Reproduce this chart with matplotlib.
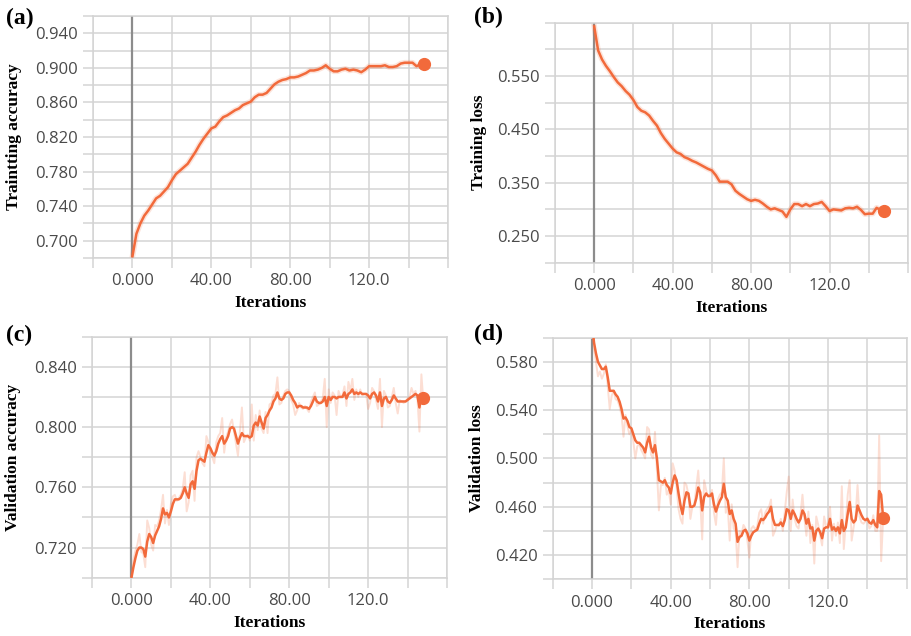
import matplotlib
matplotlib.use("Agg")
import matplotlib.pyplot as plt
from matplotlib.ticker import MultipleLocator, FuncFormatter

# ---------------- data ----------------
iters_ab = list(range(0, 149, 2))
iters_cd = list(range(0, 149))

train_acc = [0.682, 0.708, 0.720, 0.729, 0.735, 0.742, 0.749, 0.752, 0.757, 0.762,
             0.770, 0.777, 0.781, 0.785, 0.789, 0.796, 0.803, 0.811, 0.818, 0.824,
             0.830, 0.832, 0.838, 0.843, 0.845, 0.848, 0.851, 0.853, 0.857, 0.859,
             0.861, 0.866, 0.869, 0.869, 0.871, 0.876, 0.881, 0.884, 0.886, 0.887,
             0.889, 0.889, 0.890, 0.892, 0.894, 0.897, 0.897, 0.898, 0.900, 0.903,
             0.899, 0.896, 0.896, 0.898, 0.899, 0.897, 0.898, 0.897, 0.895, 0.898,
             0.902, 0.902, 0.902, 0.902, 0.903, 0.901, 0.901, 0.902, 0.905, 0.906,
             0.906, 0.906, 0.902, 0.904, 0.905]

train_loss = [0.643, 0.598, 0.581, 0.569, 0.559, 0.548, 0.538, 0.531, 0.522, 0.515,
              0.505, 0.492, 0.485, 0.482, 0.476, 0.466, 0.457, 0.443, 0.432, 0.423,
              0.414, 0.407, 0.404, 0.398, 0.395, 0.391, 0.388, 0.384, 0.380, 0.376,
              0.373, 0.364, 0.352, 0.352, 0.352, 0.347, 0.335, 0.329, 0.324, 0.319,
              0.316, 0.318, 0.316, 0.311, 0.305, 0.300, 0.302, 0.299, 0.296, 0.286,
              0.300, 0.310, 0.310, 0.306, 0.310, 0.306, 0.310, 0.311, 0.314, 0.306,
              0.297, 0.300, 0.299, 0.298, 0.302, 0.303, 0.302, 0.305, 0.299, 0.291,
              0.292, 0.292, 0.303, 0.299, 0.297]

val_acc = [0.700, 0.707, 0.713, 0.718, 0.720, 0.720, 0.719, 0.714, 0.724, 0.729,
           0.727, 0.723, 0.728, 0.731, 0.734, 0.739, 0.746, 0.742, 0.743, 0.740,
           0.744, 0.749, 0.752, 0.752, 0.752, 0.753, 0.756, 0.760, 0.756, 0.753,
           0.762, 0.764, 0.759, 0.771, 0.778, 0.779, 0.778, 0.777, 0.783, 0.788,
           0.786, 0.783, 0.781, 0.784, 0.789, 0.792, 0.794, 0.789, 0.791, 0.794,
           0.799, 0.800, 0.799, 0.794, 0.789, 0.793, 0.796, 0.794, 0.794, 0.794,
           0.793, 0.794, 0.801, 0.803, 0.801, 0.807, 0.803, 0.799, 0.806, 0.808,
           0.811, 0.813, 0.817, 0.819, 0.823, 0.819, 0.818, 0.819, 0.822, 0.823,
           0.823, 0.821, 0.818, 0.816, 0.813, 0.814, 0.814, 0.813, 0.813, 0.813,
           0.812, 0.814, 0.817, 0.820, 0.817, 0.816, 0.816, 0.817, 0.820, 0.814,
           0.820, 0.818, 0.820, 0.820, 0.819, 0.820, 0.820, 0.820, 0.823, 0.819,
           0.822, 0.823, 0.825, 0.822, 0.823, 0.822, 0.823, 0.822, 0.822, 0.822,
           0.821, 0.819, 0.822, 0.823, 0.821, 0.817, 0.823, 0.814, 0.819, 0.820,
           0.817, 0.816, 0.818, 0.821, 0.819, 0.817, 0.817, 0.817, 0.817, 0.817,
           0.818, 0.819, 0.820, 0.821, 0.822, 0.821, 0.813, 0.821, 0.819]

val_acc_raw = [0.700, 0.712, 0.718, 0.722, 0.729, 0.717, 0.716, 0.707, 0.738, 0.733,
               0.722, 0.718, 0.735, 0.734, 0.738, 0.745, 0.755, 0.736, 0.745, 0.735,
               0.749, 0.754, 0.755, 0.751, 0.753, 0.755, 0.759, 0.770, 0.744, 0.750,
               0.768, 0.771, 0.751, 0.780, 0.784, 0.780, 0.776, 0.774, 0.794, 0.790,
               0.783, 0.780, 0.776, 0.790, 0.794, 0.796, 0.806, 0.783, 0.793, 0.797,
               0.802, 0.805, 0.797, 0.789, 0.781, 0.797, 0.813, 0.790, 0.793, 0.795,
               0.791, 0.815, 0.791, 0.808, 0.798, 0.811, 0.799, 0.796, 0.810, 0.796,
               0.815, 0.816, 0.821, 0.822, 0.833, 0.815, 0.816, 0.821, 0.824, 0.825,
               0.824, 0.818, 0.815, 0.808, 0.811, 0.816, 0.813, 0.812, 0.814, 0.812,
               0.810, 0.817, 0.820, 0.823, 0.814, 0.815, 0.817, 0.819, 0.832, 0.800,
               0.825, 0.816, 0.823, 0.821, 0.808, 0.824, 0.820, 0.821, 0.827, 0.814,
               0.830, 0.824, 0.832, 0.818, 0.825, 0.820, 0.825, 0.821, 0.822, 0.822,
               0.812, 0.816, 0.826, 0.824, 0.818, 0.812, 0.832, 0.800, 0.824, 0.821,
               0.813, 0.814, 0.820, 0.826, 0.816, 0.809, 0.818, 0.817, 0.816, 0.817,
               0.819, 0.820, 0.826, 0.822, 0.824, 0.819, 0.797, 0.835, 0.817]

val_loss = [0.612, 0.596, 0.587, 0.580, 0.577, 0.574, 0.574, 0.576, 0.567, 0.556,
            0.556, 0.556, 0.553, 0.551, 0.547, 0.541, 0.533, 0.534, 0.531, 0.526,
            0.525, 0.520, 0.515, 0.513, 0.513, 0.511, 0.509, 0.505, 0.513, 0.518,
            0.509, 0.505, 0.511, 0.500, 0.482, 0.481, 0.480, 0.482, 0.478, 0.476,
            0.471, 0.480, 0.486, 0.482, 0.471, 0.461, 0.454, 0.465, 0.472, 0.471,
            0.460, 0.460, 0.461, 0.467, 0.476, 0.472, 0.457, 0.468, 0.471, 0.469,
            0.469, 0.471, 0.462, 0.456, 0.461, 0.465, 0.468, 0.479, 0.468, 0.465,
            0.454, 0.457, 0.450, 0.446, 0.431, 0.435, 0.436, 0.440, 0.441, 0.438,
            0.432, 0.436, 0.439, 0.440, 0.441, 0.446, 0.450, 0.449, 0.451, 0.454,
            0.456, 0.460, 0.450, 0.445, 0.445, 0.445, 0.447, 0.444, 0.449, 0.458,
            0.457, 0.450, 0.457, 0.454, 0.450, 0.447, 0.450, 0.457, 0.454, 0.446,
            0.450, 0.442, 0.443, 0.432, 0.440, 0.442, 0.439, 0.434, 0.442, 0.443,
            0.443, 0.450, 0.441, 0.443, 0.440, 0.443, 0.438, 0.449, 0.440, 0.443,
            0.454, 0.464, 0.450, 0.447, 0.449, 0.461, 0.457, 0.453, 0.450, 0.449,
            0.450, 0.447, 0.446, 0.449, 0.445, 0.443, 0.473, 0.470, 0.451]

val_loss_raw = [0.612, 0.590, 0.580, 0.568, 0.572, 0.566, 0.570, 0.578, 0.560, 0.541,
                0.552, 0.556, 0.549, 0.548, 0.543, 0.536, 0.518, 0.536, 0.527, 0.520,
                0.523, 0.514, 0.500, 0.510, 0.512, 0.507, 0.504, 0.500, 0.526, 0.524,
                0.503, 0.500, 0.522, 0.490, 0.457, 0.478, 0.478, 0.484, 0.470, 0.474,
                0.462, 0.496, 0.490, 0.476, 0.458, 0.450, 0.446, 0.480, 0.478, 0.470,
                0.450, 0.460, 0.462, 0.476, 0.490, 0.466, 0.433, 0.482, 0.474, 0.468,
                0.469, 0.474, 0.455, 0.445, 0.466, 0.470, 0.472, 0.500, 0.455, 0.460,
                0.432, 0.462, 0.442, 0.440, 0.410, 0.440, 0.437, 0.445, 0.442, 0.432,
                0.418, 0.442, 0.444, 0.441, 0.444, 0.455, 0.458, 0.446, 0.455, 0.458,
                0.460, 0.466, 0.436, 0.440, 0.445, 0.444, 0.450, 0.440, 0.456, 0.472,
                0.485, 0.440, 0.466, 0.450, 0.444, 0.442, 0.454, 0.470, 0.450, 0.436,
                0.456, 0.430, 0.445, 0.413, 0.452, 0.445, 0.436, 0.428, 0.452, 0.444,
                0.443, 0.460, 0.432, 0.446, 0.436, 0.447, 0.430, 0.477, 0.425, 0.446,
                0.470, 0.482, 0.432, 0.443, 0.452, 0.478, 0.452, 0.447, 0.446, 0.448,
                0.451, 0.442, 0.444, 0.453, 0.440, 0.440, 0.519, 0.415, 0.450]

panels = [
    dict(tag="(a)", ylabel="Traintting accuracy", x=iters_ab, y=train_acc, raw=None,
         ylim=(0.68, 0.96), ystep=0.02, ylabels=[0.700, 0.740, 0.780, 0.820, 0.860, 0.900, 0.940],
         rect=[0.1021, 0.5943, 0.3897, 0.3805], tagpos=(0.007, 0.987), ylpad=9),
    dict(tag="(b)", ylabel="Training loss", x=iters_ab, y=train_loss, raw=None,
         ylim=(0.20, 0.65), ystep=0.05, ylabels=[0.250, 0.350, 0.450, 0.550],
         rect=[0.6092, 0.5869, 0.3875, 0.3774], tagpos=(0.520, 0.989), ylpad=7),
    dict(tag="(c)", ylabel="Validation accuracy", x=iters_cd, y=val_acc, raw=val_acc_raw,
         ylim=(0.70, 0.86), ystep=0.02, ylabels=[0.720, 0.760, 0.800, 0.840],
         rect=[0.1010, 0.0917, 0.3897, 0.3789], tagpos=(0.007, 0.489), ylpad=9),
    dict(tag="(d)", ylabel="Validation loss", x=iters_cd, y=val_loss, raw=val_loss_raw,
         ylim=(0.40, 0.60), ystep=0.02, ylabels=[0.420, 0.460, 0.500, 0.540, 0.580],
         rect=[0.6067, 0.0892, 0.3886, 0.3799], tagpos=(0.520, 0.491), ylpad=7),
]

xlabel_text = {0: "0.000", 40: "40.00", 80: "80.00", 120: "120.0"}

LINE = "#f26a3b"
GRID = "#d4d4d4"
TICKC = "#4a4a4a"
TICKFONT = "Open Sans"
SERIF = "Liberation Serif"

fig = plt.figure(figsize=(9.11, 6.36), dpi=100)

for p in panels:
    ax = fig.add_axes(p["rect"])
    ax.set_xlim(-20, 160)
    ax.set_ylim(*p["ylim"])
    ax.xaxis.set_major_locator(MultipleLocator(20))
    ax.yaxis.set_major_locator(MultipleLocator(p["ystep"]))

    def xfmt(v, pos):
        r = int(round(v))
        return xlabel_text.get(r, "") if abs(v - r) < 1e-6 else ""

    ylabs = p["ylabels"]

    def yfmt(v, pos, ylabs=ylabs):
        for l in ylabs:
            if abs(v - l) < 1e-6:
                return f"{l:.3f}"
        return ""

    ax.xaxis.set_major_formatter(FuncFormatter(xfmt))
    ax.yaxis.set_major_formatter(FuncFormatter(yfmt))
    ax.grid(True, color=GRID, linewidth=1.1)
    ax.set_axisbelow(True)
    for s in ax.spines.values():
        s.set_color(GRID)
        s.set_linewidth(1.1)
    ax.tick_params(axis="both", which="major", length=7, width=1.1, color=GRID,
                   labelcolor=TICKC, labelsize=12, pad=4)
    for lab in ax.get_xticklabels() + ax.get_yticklabels():
        lab.set_fontfamily(TICKFONT)

    ax.axvline(0, color="#8c8c8c", linewidth=1.6, zorder=1.5)

    if p["raw"] is not None:
        ax.plot(p["x"], p["raw"], color=LINE, alpha=0.22, linewidth=1.4, zorder=2)
    else:
        ax.plot(p["x"], p["y"], color=LINE, alpha=0.18, linewidth=4.0, zorder=2)
    ax.plot(p["x"], p["y"], color=LINE, linewidth=1.8, zorder=3)
    ax.plot([p["x"][-1]], [p["y"][-1]], "o", color=LINE, markersize=8.5, zorder=4,
            clip_on=False)

    ax.set_xlabel("Iterations", fontfamily=SERIF, fontweight="bold", fontsize=12.5,
                  labelpad=4)
    ax.set_ylabel(p["ylabel"], fontfamily=SERIF, fontweight="bold", fontsize=12.5,
                  labelpad=p["ylpad"])
    fig.text(p["tagpos"][0], p["tagpos"][1], p["tag"], fontfamily=SERIF,
             fontweight="bold", fontsize=17, va="top", ha="left")

fig.savefig("out.png", dpi=100)
